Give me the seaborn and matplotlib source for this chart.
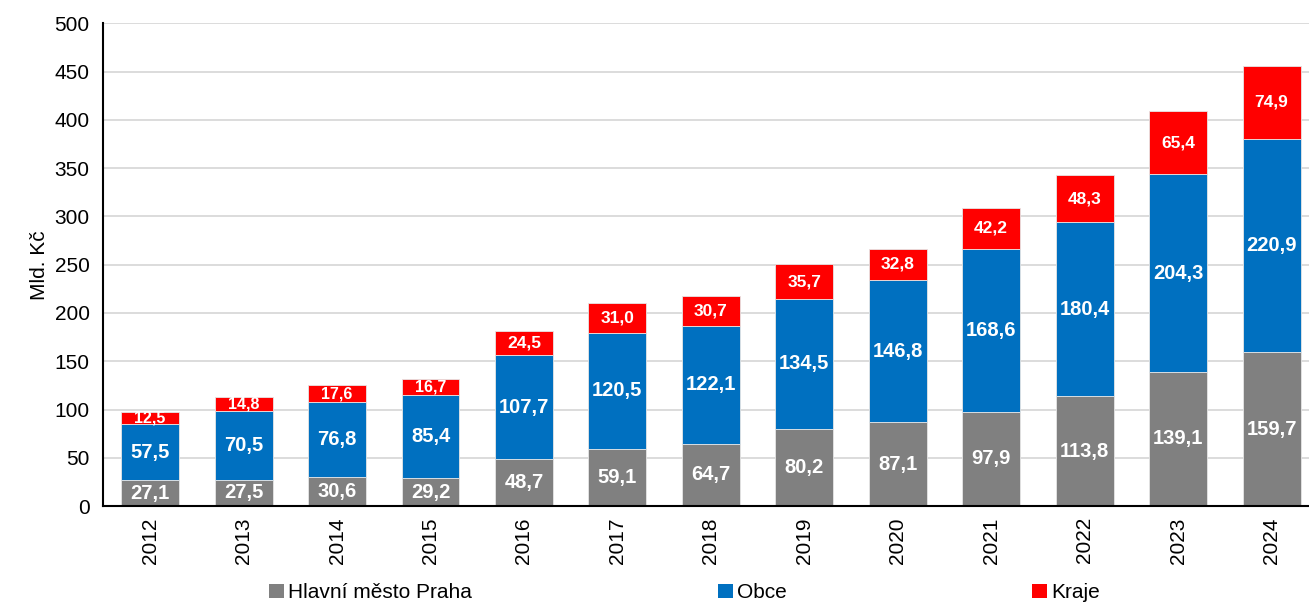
import matplotlib
matplotlib.use("Agg")
import matplotlib.pyplot as plt
from matplotlib.patches import Patch
import seaborn as sns
import pandas as pd

years = ["2012", "2013", "2014", "2015", "2016", "2017", "2018",
         "2019", "2020", "2021", "2022", "2023", "2024"]
praha = [27.1, 27.5, 30.6, 29.2, 48.7, 59.1, 64.7, 80.2, 87.1, 97.9, 113.8, 139.1, 159.7]
obce = [57.5, 70.5, 76.8, 85.4, 107.7, 120.5, 122.1, 134.5, 146.8, 168.6, 180.4, 204.3, 220.9]
kraje = [12.5, 14.8, 17.6, 16.7, 24.5, 31.0, 30.7, 35.7, 32.8, 42.2, 48.3, 65.4, 74.9]
series_names = ["Hlavní město Praha", "Obce", "Kraje"]
colors = ["#808080", "#0070C0", "#FF0000"]

df = pd.DataFrame({"rok": years, "praha": praha, "obce": obce, "kraje": kraje})
df["b_obce"] = df["praha"]
df["b_kraje"] = df["praha"] + df["obce"]

sns.set_style("white")
plt.rcParams["font.family"] = ["Liberation Sans", "DejaVu Sans"]
plt.rcParams["text.color"] = "black"
plt.rcParams["axes.labelcolor"] = "black"
plt.rcParams["xtick.color"] = "black"
plt.rcParams["ytick.color"] = "black"

fig = plt.figure(figsize=(13.09, 6.12), dpi=100)
ax = fig.add_axes([0.079, 0.173, 0.921, 0.789])
ax.set_axisbelow(True)
ax.yaxis.grid(True, color="#D9D9D9", linewidth=1.3)

w = 0.62
sns.barplot(data=df, x="rok", y="praha", color=colors[0], width=w,
            edgecolor="#e6e6e6", linewidth=0.6, saturation=1, ax=ax)
sns.barplot(data=df, x="rok", y="obce", bottom=df["b_obce"], color=colors[1], width=w,
            edgecolor="#e6e6e6", linewidth=0.6, saturation=1, ax=ax)
sns.barplot(data=df, x="rok", y="kraje", bottom=df["b_kraje"], color=colors[2], width=w,
            edgecolor="#e6e6e6", linewidth=0.6, saturation=1, ax=ax)

def fmt(v):
    return f"{v:.1f}".replace(".", ",")

for i in range(len(years)):
    ax.text(i, praha[i] / 2, fmt(praha[i]), ha="center", va="center",
            color="white", fontweight="bold", fontsize=14.5)
    ax.text(i, praha[i] + obce[i] / 2, fmt(obce[i]), ha="center", va="center",
            color="white", fontweight="bold", fontsize=14.5)
    fs = 11.5 if kraje[i] < 20 else 12.5
    ax.text(i, praha[i] + obce[i] + kraje[i] / 2, fmt(kraje[i]), ha="center", va="center",
            color="white", fontweight="bold", fontsize=fs)

ax.set_ylim(0, 500)
ax.set_yticks(range(0, 501, 50))
ax.set_xlim(-0.5, 12.4)
ax.set_xlabel("")
ax.set_ylabel("Mld. Kč", fontsize=15)
ax.tick_params(axis="y", labelsize=15, length=0, pad=10)
ax.tick_params(axis="x", labelsize=15, length=0, pad=8, labelrotation=90)
for s in ["top", "right"]:
    ax.spines[s].set_visible(False)
for s in ["left", "bottom"]:
    ax.spines[s].set_color("black")
    ax.spines[s].set_linewidth(1.5)

handles = [Patch(facecolor=c, edgecolor="none") for c in colors]
fig.legend(handles, series_names, loc="lower center", bbox_to_anchor=(0.523, -0.015),
           ncol=3, frameon=False, handlelength=0.7, handleheight=0.7,
           handletextpad=0.2, columnspacing=11.8,
           prop={"family": ["Liberation Sans Narrow", "Liberation Sans"], "size": 15})

fig.savefig("out.png", dpi=100)
